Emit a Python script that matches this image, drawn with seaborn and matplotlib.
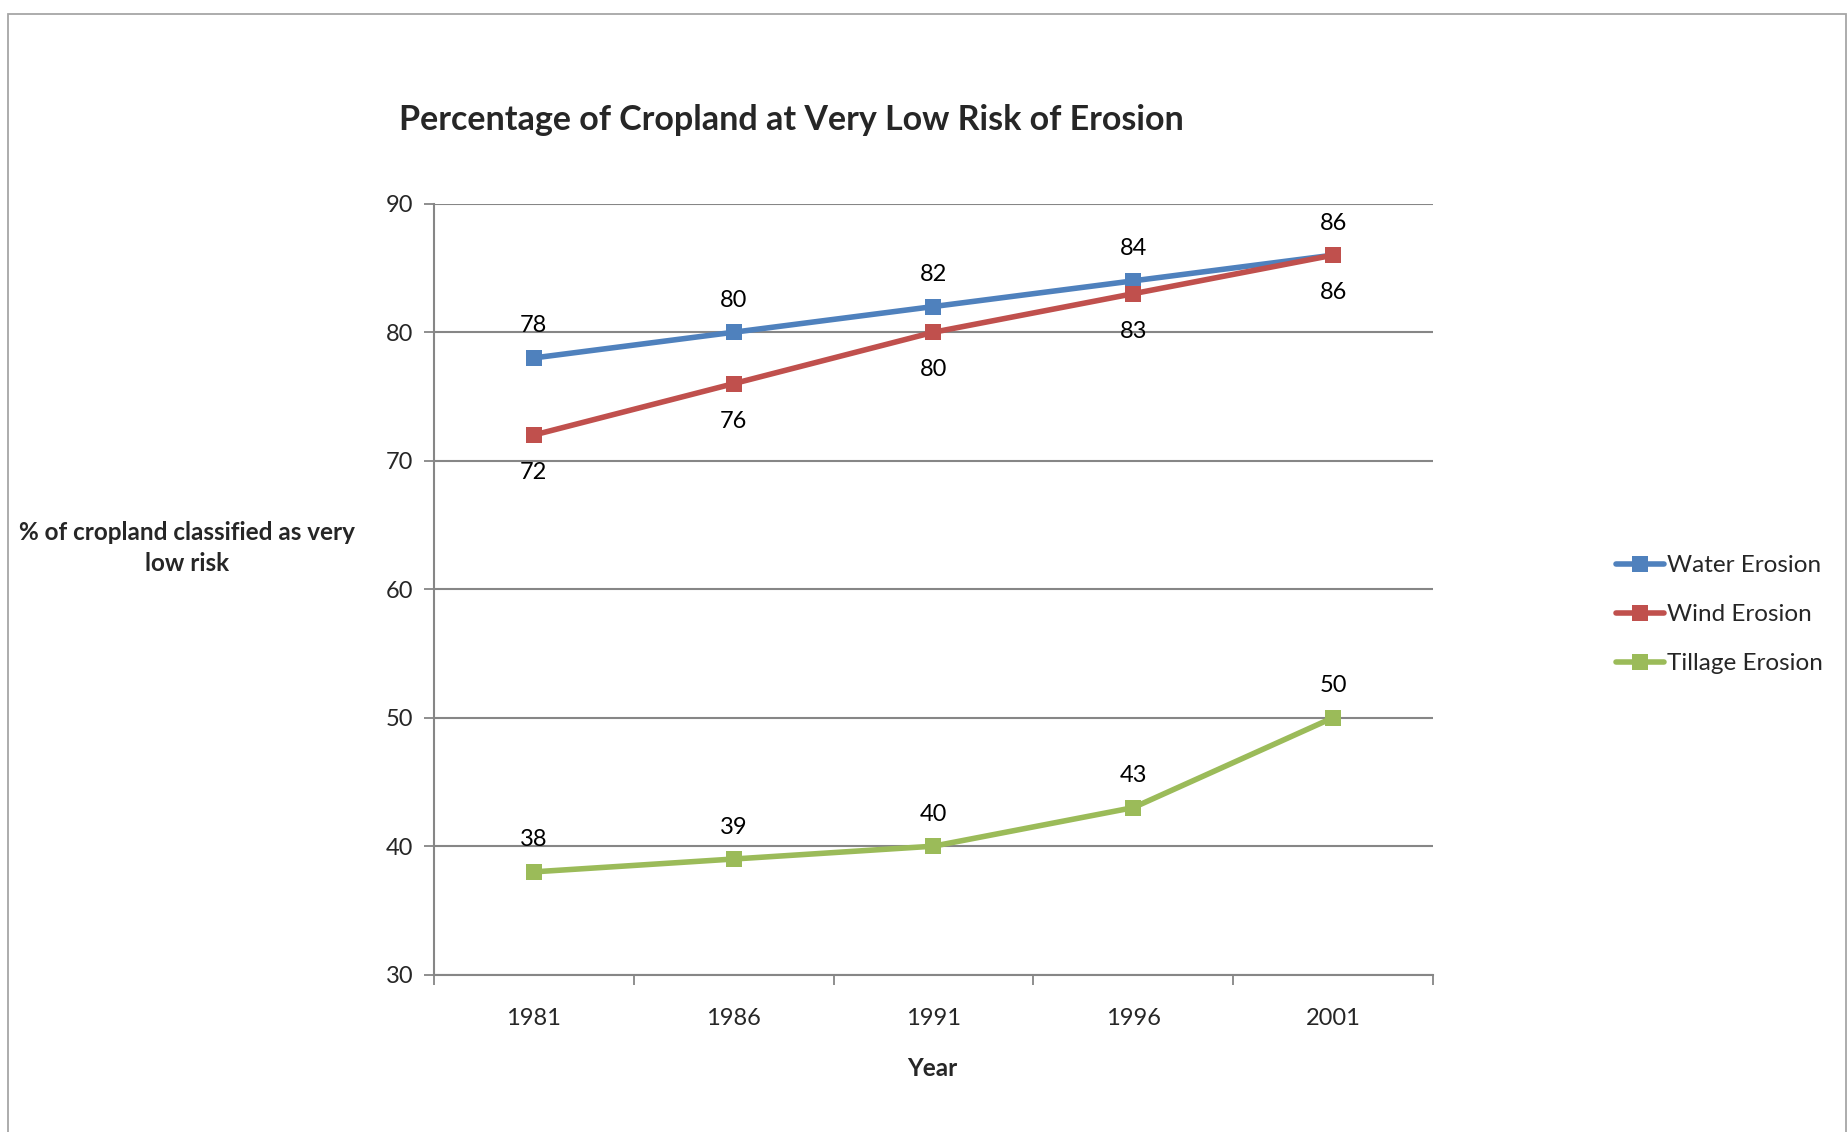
import matplotlib
matplotlib.use("Agg")
import matplotlib.pyplot as plt
import matplotlib.patches as mpatches
import seaborn as sns
import pandas as pd

years = ["1981", "1986", "1991", "1996", "2001"]
water = [78, 80, 82, 84, 86]
wind = [72, 76, 80, 83, 86]
tillage = [38, 39, 40, 43, 50]
series_names = ["Water Erosion", "Wind Erosion", "Tillage Erosion"]
colors = ["#4F81BD", "#C0504D", "#9BBB59"]

rows = []
for name, vals in zip(series_names, [water, wind, tillage]):
    for i, v in enumerate(vals):
        rows.append({"idx": i, "Year": years[i], "value": v, "series": name})
df = pd.DataFrame(rows)

sns.set_style("white")
plt.rcParams['font.family'] = ['Lato', 'DejaVu Sans']

fig = plt.figure(figsize=(18.49, 11.32), dpi=100)
ax = fig.add_axes([0.2347, 0.139, 0.775 - 0.2347, 0.820 - 0.139])

sns.lineplot(data=df, x="idx", y="value", hue="series", palette=colors,
             marker="s", markersize=11, markeredgewidth=0, linewidth=4,
             ax=ax, legend=False)

# data labels: water above, wind below, tillage above
offsets = {"Water Erosion": 23, "Wind Erosion": -27, "Tillage Erosion": 23}
for name, vals in zip(series_names, [water, wind, tillage]):
    for i, v in enumerate(vals):
        ax.annotate(str(v), (i, v), xytext=(0, offsets[name]), textcoords="offset points",
                    ha="center", va="center", fontsize=17, color="black")

ax.set_xlim(-0.5, 4.5)
ax.set_ylim(30, 90)
ax.set_yticks(range(30, 91, 10))
ax.set_xticks(range(len(years)))
ax.set_xticklabels(years)
ax.set_xticks([i - 0.5 for i in range(len(years) + 1)], minor=True)
ax.tick_params(axis="x", which="major", length=0, pad=24, labelsize=17)
ax.tick_params(axis="x", which="minor", bottom=True, length=7, width=1.3, color="#868686",
               direction="out")
ax.tick_params(axis="y", length=7, width=1.3, color="#868686", direction="out", pad=8, labelsize=17,
               left=True)
ax.yaxis.grid(True, color="#868686", linewidth=1.5)
ax.set_axisbelow(True)
for s in ["top", "right"]:
    ax.spines[s].set_visible(False)
for s in ["left", "bottom"]:
    ax.spines[s].set_color("#868686")
    ax.spines[s].set_linewidth(1.5)

ax.set_xlabel("")
ax.set_ylabel("")
fig.text(0.504, 0.056, "Year", ha="center", va="center", fontsize=17.5, fontweight="bold")
fig.text(0.101, 0.516, "% of cropland classified as very\nlow risk", ha="center", va="center",
         fontsize=17.5, fontweight="bold", linespacing=1.45)
fig.text(0.428, 0.894, "Percentage of Cropland at Very Low Risk of Erosion", ha="center",
         va="center", fontsize=24.5, fontweight="bold")

# legend
handles = [plt.Line2D([], [], color=c, linewidth=4, marker="s", markersize=11, markeredgewidth=0)
           for c in colors]
fig.legend(handles, series_names, loc="center left", bbox_to_anchor=(0.862, 0.457),
           frameon=False, fontsize=17.5, handlelength=2.0, handletextpad=0.1, labelspacing=1.15)

# outer chart border
fig.patches.append(mpatches.Rectangle((0.0045, -0.05), 0.994, 1.038, transform=fig.transFigure,
                                      fill=False, edgecolor="#A6A6A6", linewidth=1.3))

fig.savefig("out.png", dpi=100)
